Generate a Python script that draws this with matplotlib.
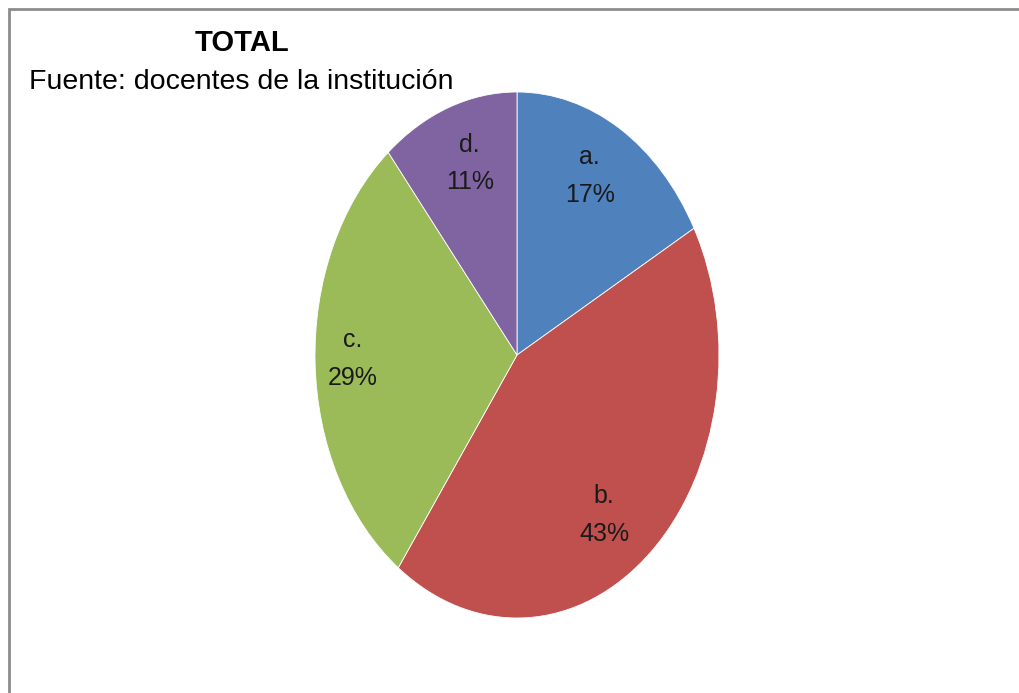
import numpy as np
import matplotlib
matplotlib.use("Agg")
import matplotlib.pyplot as plt
from matplotlib.patches import Rectangle

categories = ["a.", "b.", "c.", "d."]
shares = [17, 43, 29, 11]
colors = ["#4f81bd", "#c0504d", "#9bbb59", "#8064a2"]
# label placement inside each wedge (radius fraction, angle shift in degrees)
label_dist = [0.77, 0.745, 0.815, 0.765]
label_shift = [2.7, -6.1, -0.7, -2.0]

W, H = 1019, 693
fig = plt.figure(figsize=(W / 100, H / 100), dpi=100)
fig.patch.set_facecolor("white")

# outer chart frame (clipped on right and bottom like the source)
fig.add_artist(Rectangle((9 / W, -0.05), 1.2, 1 - 9 / H + 0.05, transform=fig.transFigure,
                         fill=False, edgecolor="#8c8c8c", linewidth=2))

# pie is stretched vertically: center (517,355), rx 202, ry 263 px
cx, cy, rx, ry = 517, 355, 202, 263
ax = fig.add_axes([(cx - rx) / W, 1 - (cy + ry) / H, 2 * rx / W, 2 * ry / H])
labels = [f"{c}\n{v}%" for c, v in zip(categories, shares)]
wedges, texts = ax.pie(shares, colors=colors, startangle=90, counterclock=False,
                       labels=labels, labeldistance=0.78,
                       wedgeprops=dict(edgecolor="white", linewidth=0.6),
                       textprops=dict(fontsize=18, color="#1a1a1a", ha="center", va="center",
                                      family="Liberation Sans", linespacing=1.7))
for w, t, d, s in zip(wedges, texts, label_dist, label_shift):
    ang = np.deg2rad((w.theta1 + w.theta2) / 2 + s)
    t.set_position((d * np.cos(ang), d * np.sin(ang)))
ax.set_aspect("auto")
ax.set_xlim(-1, 1)
ax.set_ylim(-1, 1)
ax.axis("off")

fig.text(242 / W, 1 - 43 / H, "TOTAL", ha="center", va="center", fontsize=21,
         fontweight="bold", family="Liberation Sans")
fig.text(241 / W, 1 - 82 / H, "Fuente: docentes de la institución", ha="center", va="center",
         fontsize=20.5, family="Liberation Sans")

fig.savefig("out.png", dpi=100, facecolor="white")
